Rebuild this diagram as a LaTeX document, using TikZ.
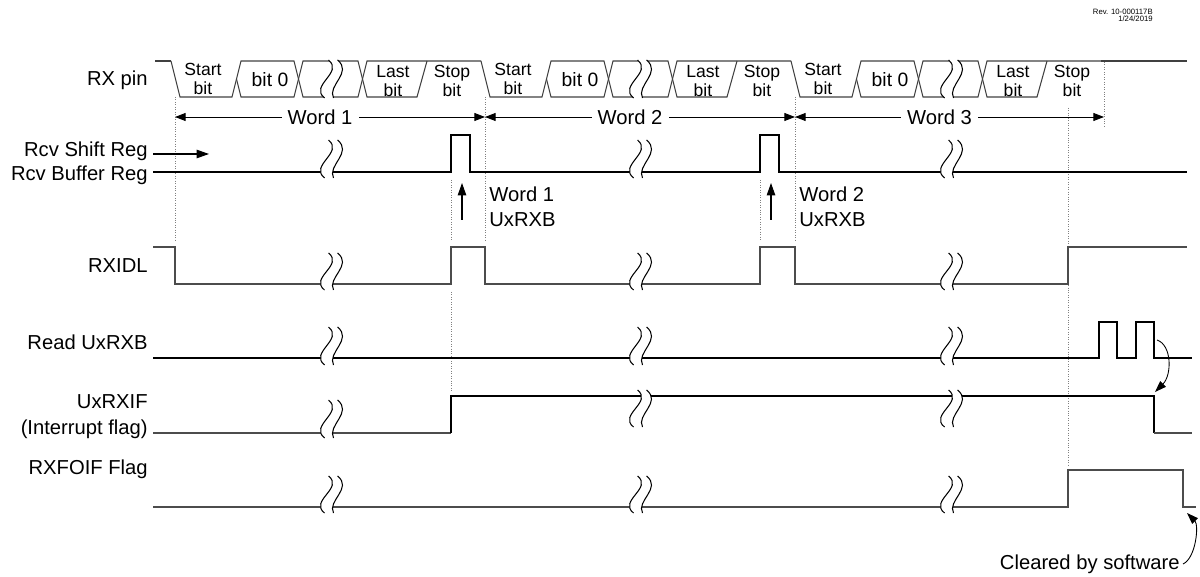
\documentclass[tikz,border=0pt]{standalone}
\usepackage{fontspec}
\setmainfont{Liberation Sans}
\usetikzlibrary{arrows.meta,positioning}

% break mark: centre x, top y, bottom y
\newcommand{\sigbrk}[3]{%
  \fill[white] ({#1-2.5},#2) .. controls ({#1+13},{#2+(#3-#2)/3}) and ({#1-22},{#2+2*(#3-#2)/3}) .. ({#1-6.5},#3)
    -- ({#1+2.5},#3) .. controls ({#1-4},{#2+2*(#3-#2)/3}) and ({#1+22},{#2+(#3-#2)/3}) .. ({#1+6.5},#2) -- cycle;
  \draw[brkline] ({#1-2.5},#2) .. controls ({#1+13},{#2+(#3-#2)/3}) and ({#1-22},{#2+2*(#3-#2)/3}) .. ({#1-6.5},#3);
  \draw[brkline] ({#1+6.5},#2) .. controls ({#1+22},{#2+(#3-#2)/3}) and ({#1-4},{#2+2*(#3-#2)/3}) .. ({#1+2.5},#3);
}

\begin{document}
\begin{tikzpicture}[x=0.02cm, y=-0.02cm,
    rxline/.style={draw=black!75, line width=0.6pt},
    wave/.style={draw=black, line width=0.6pt},
    wavegray/.style={draw=black!70, line width=0.6pt},
    brkline/.style={draw=black, line width=0.6pt},
    guide/.style={draw=black!50, densely dotted, line width=0.4pt},
    siglbl/.style={anchor=base east, inner sep=0pt, font=\fontsize{11.5}{14}\selectfont},
    bitlbl/.style={inner sep=0pt, align=center, font=\fontsize{10}{11.3}\selectfont},
    wordlbl/.style={fill=white, inner xsep=3.5pt, inner ysep=1pt, font=\fontsize{11.5}{14}\selectfont},
    notelbl/.style={anchor=west, inner sep=0pt, align=left, font=\fontsize{11.5}{14.2}\selectfont},
    wordspan/.style={{Triangle[length=6pt,width=4.5pt]}-{Triangle[length=6pt,width=4.5pt]}, line width=0.5pt},
    uparrow/.style={-{Triangle[length=7pt,width=4.8pt]}, line width=0.6pt},
    curvarrow/.style={-{Triangle[length=6.5pt,width=4.5pt]}, line width=0.5pt}
]
\useasboundingbox (0,0) rectangle (1200,577);

% Revision stamp
\node[anchor=east, inner sep=0pt, align=right, font=\fontsize{4.4}{3.9}\selectfont] (rev) at (1153,15) {Rev. 10-000117B\\1/24/2019};

% Signal names
\node[siglbl] (rxpin) at (148,86) {RX pin};
\node[siglbl] (shiftreg) at (148,157) {Rcv Shift Reg};
\node[siglbl] (bufreg) at (148,181) {Rcv Buffer Reg};
\node[siglbl] (rxidl) at (148,273) {RXIDL};
\node[siglbl] (readrxb) at (148,350) {Read UxRXB};
\node[anchor=east, inner sep=0pt, align=right, font=\fontsize{11.5}{14.7}\selectfont] (rxif) at (148,417) {UxRXIF\\(Interrupt flag)};
\node[siglbl] (rxfoif) at (148,474) {RXFOIF Flag};

% Dotted guides
\draw[guide] (175,97) -- (175,242);
\draw[guide] (485,97) -- (485,240);
\draw[guide] (795,97) -- (795,240);
\draw[guide] (1104,62) -- (1104,128);
\draw[guide] (1068,108) -- (1068,465);
\draw[guide] (451,180) -- (451,240);
\draw[guide] (451,292) -- (451,392);
\draw[guide] (760,180) -- (760,240);

% RX pin
\draw[rxline] (155,61) -- (171,61);
\foreach \o/\i in {0/1,310/2,620/3} {
  \draw[rxline] (\o+171,61) -- (\o+180,97) -- (\o+232,97) -- (\o+241,61) -- (\o+294,61) -- (\o+303,97)
    -- (\o+358,97) -- (\o+367,61) -- (\o+481,61);
  \draw[rxline] (\o+236.5,79) -- (\o+241,97) -- (\o+294,97) -- (\o+303,61) -- (\o+358,61) -- (\o+367,97)
    -- (\o+417,97) -- (\o+427,61);
  \node[bitlbl] (start\i) at (\o+203,79) {Start\\bit};
  \node[bitlbl, font=\fontsize{11}{12}\selectfont] (bitzero\i) at (\o+270,80) {bit 0};
  \node[bitlbl] (last\i) at (\o+393,81) {Last\\bit};
  \node[bitlbl] (stop\i) at (\o+452,81) {Stop\\bit};
}
\draw[rxline] (1101,61) -- (1187,61);

% Word spans
\coordinate (w0) at (175,117);
\coordinate (w1) at (485,117);
\coordinate (w2) at (795,117);
\coordinate (w3) at (1104,117);
\draw[wordspan] (w0) -- node[wordlbl, pos=0.468] (word1) {Word 1} (w1);
\draw[wordspan] (w1) -- node[wordlbl, pos=0.468] (word2) {Word 2} (w2);
\draw[wordspan] (w2) -- node[wordlbl, pos=0.468] (word3) {Word 3} (w3);

% Rcv Shift Reg / Rcv Buffer Reg
\coordinate (shiftst) at (153,154);
\coordinate (shiftend) at (209,154);
\draw[uparrow] (shiftst) -- (shiftend);
\draw[wave] (153,172) -- (451,172) -- (451,135) -- (470,135) -- (470,172) -- (760,172) -- (760,135)
  -- (779,135) -- (779,172) -- (1187,172);

% Buffer loads
\coordinate (up1s) at (462,220);
\coordinate (up1e) at (462,183);
\coordinate (up2s) at (771,220);
\coordinate (up2e) at (771,183);
\draw[uparrow] (up1s) -- (up1e);
\draw[uparrow] (up2s) -- (up2e);
\node[notelbl] (load1) at (489,207) {Word 1\\UxRXB};
\node[notelbl] (load2) at (799,207) {Word 2\\UxRXB};

% RXIDL
\draw[wavegray] (153,247) -- (175,247) -- (175,284) -- (451,284) -- (451,247) -- (485,247) -- (485,284)
  -- (760,284) -- (760,247) -- (795,247) -- (795,284) -- (1068,284) -- (1068,247) -- (1187,247);

% Read UxRXB
\draw[wave] (153,358) -- (1099,358) -- (1099,322) -- (1117,322) -- (1117,358) -- (1136,358) -- (1136,322)
  -- (1154,322) -- (1154,358) -- (1192,358);

% UxRXIF
\draw[wavegray] (153,433) -- (451,433);
\draw[wave] (451,433) -- (451,396) -- (1154,396) -- (1154,433);
\draw[wavegray] (1154,433) -- (1192,433);

% RXFOIF Flag
\draw[wavegray] (153,507) -- (1068,507) -- (1068,470) -- (1183,470) -- (1183,507) -- (1196,507);

% Breaks
\foreach \c in {331,640,951} {
  \sigbrk{\c}{60}{98}
  \sigbrk{\c}{140}{178}
  \sigbrk{\c}{253}{290}
  \sigbrk{\c}{327}{365}
  \sigbrk{\c}{476}{513}
}
\sigbrk{331}{400}{438}
\sigbrk{640}{390}{427}
\sigbrk{951}{390}{427}

% Read clears flag
\coordinate (rdA) at (1157,340);
\coordinate (ifB) at (1155,392);
\draw[curvarrow] (rdA) .. controls (1172,345) and (1172,375) .. (ifB);

% Software clear
\node[anchor=east, inner sep=0pt, font=\fontsize{11.5}{14}\selectfont] (clr) at (1180,564) {Cleared by software};
\coordinate (clrend) at (1187,513);
\draw[curvarrow] (clr.east) ++(3,0) .. controls (1196,558) and (1199,525) .. (clrend);

\end{tikzpicture}
\end{document}
